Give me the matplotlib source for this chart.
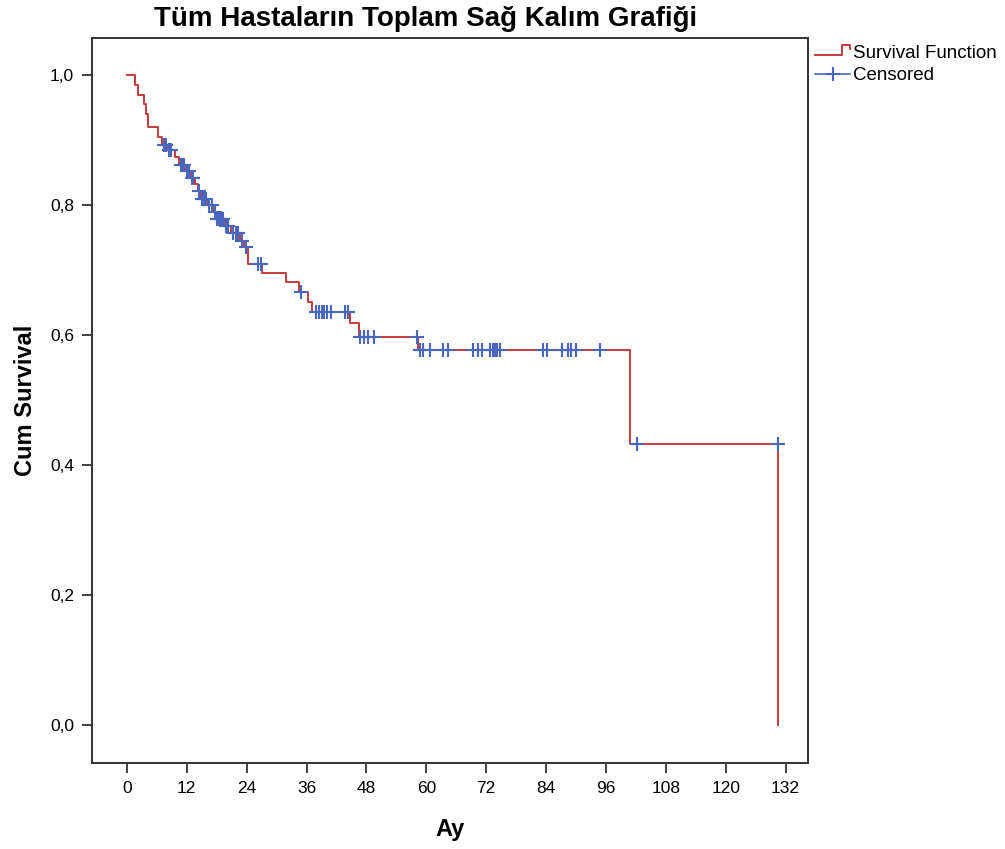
import matplotlib
matplotlib.use("Agg")
import matplotlib.pyplot as plt
from matplotlib.lines import Line2D
import numpy as np

# Kaplan-Meier steps (months, survival after the drop)
event_months = [1.6, 2.3, 3.4, 3.8, 4.2, 6.2, 7.0, 8.0, 9.6, 10.5, 11.8, 12.8, 13.6,
                14.2, 14.8, 16.2, 17.4, 17.9, 19.6, 20.8, 22.6, 23.5, 24.2, 27.0,
                31.8, 34.5, 36.3, 37.0, 44.8, 46.5, 58.4, 100.8, 130.5]
event_surv = [0.985, 0.970, 0.955, 0.940, 0.920, 0.905, 0.893, 0.884, 0.874, 0.862,
              0.852, 0.842, 0.832, 0.822, 0.810, 0.800, 0.790, 0.778, 0.768, 0.757,
              0.745, 0.735, 0.710, 0.696, 0.681, 0.666, 0.651, 0.636, 0.618, 0.597,
              0.577, 0.432, 0.0]

censor_months = [7.4, 7.8, 8.4, 8.9, 10.8, 11.2, 11.5, 12.0, 12.4, 13.0, 13.3, 14.5,
                 15.0, 15.4, 15.8, 16.5, 17.0, 17.7, 18.1, 18.4, 18.8, 19.2, 19.9,
                 20.3, 21.2, 21.8, 22.3, 23.0, 23.8, 26.2, 26.8, 34.9, 37.8, 38.5,
                 39.0, 39.5, 40.0, 41.0, 43.8, 44.3, 46.8, 47.5, 48.4, 49.5, 58.2,
                 58.7, 59.4, 60.7, 63.4, 64.4, 69.4, 70.4, 71.1, 72.7, 73.3, 73.7,
                 74.2, 74.7, 83.4, 84.1, 87.1, 88.4, 89.1, 90.1, 94.8, 102.2, 130.4]

xticks = np.arange(0, 133, 12)
yticks = [0.0, 0.2, 0.4, 0.6, 0.8, 1.0]
ytick_labels = ["0,0", "0,2", "0,4", "0,6", "0,8", "1,0"]

red = "#C83A3C"
blue = "#4A67C0"

plt.rcParams['font.family'] = ['Liberation Sans', 'DejaVu Sans']

fig = plt.figure(figsize=(10.05, 8.49), dpi=100)
ax = fig.add_axes([92/1005, 1 - 763/849, (808-92)/1005, (763-38)/849])

# step curve
t = np.concatenate([[0.0], event_months])
s = np.concatenate([[1.0], event_surv])
ax.step(t, s, where="post", color=red, lw=1.4, zorder=2)

# censored marks sit on the curve
idx = np.searchsorted(t, censor_months, side="right") - 1
ax.plot(censor_months, s[idx], ls="none", marker="+", ms=10, mew=1.5,
        color=blue, zorder=3)

ax.set_xlim(-7.0, 136.5)
ax.set_ylim(-0.0585, 1.057)
ax.set_xticks(xticks)
ax.set_xticklabels([str(v) for v in xticks], fontsize=12.5)
ax.set_yticks(yticks)
ax.set_yticklabels(ytick_labels, fontsize=12.5)
ax.tick_params(direction="out", length=7, width=1.3, color="#333333", pad=6)

for sp in ax.spines.values():
    sp.set_color("#333333")
    sp.set_linewidth(1.4)

ax.set_xlabel("Ay", fontsize=17, fontweight="bold", labelpad=16)
ax.set_ylabel("Cum Survival", fontsize=17, fontweight="bold", labelpad=9)
fig.text(426/1005, 1 - 19/849, "Tüm Hastaların Toplam Sağ Kalım Grafiği",
         ha="center", va="center", fontsize=20, fontweight="bold")

# legend drawn outside the axes, top right
def fx(px):
    return px / 1005

def fy(py):
    return 1 - py / 849

fig.add_artist(Line2D([fx(815), fx(842), fx(842), fx(850), fx(850)],
                      [fy(55), fy(55), fy(45), fy(45), fy(49)],
                      color=red, lw=1.4, transform=fig.transFigure))
fig.text(fx(853), fy(53), "Survival Function", ha="left", va="center", fontsize=13.5)
fig.add_artist(Line2D([fx(815), fx(850)], [fy(74), fy(74)], color=blue, lw=1.2,
                      transform=fig.transFigure))
fig.add_artist(Line2D([fx(833)], [fy(74)], ls="none", marker="+", ms=10, mew=1.5,
                      color=blue, transform=fig.transFigure))
fig.text(fx(853), fy(75), "Censored", ha="left", va="center", fontsize=13.5)

fig.savefig("out.png", dpi=100)
